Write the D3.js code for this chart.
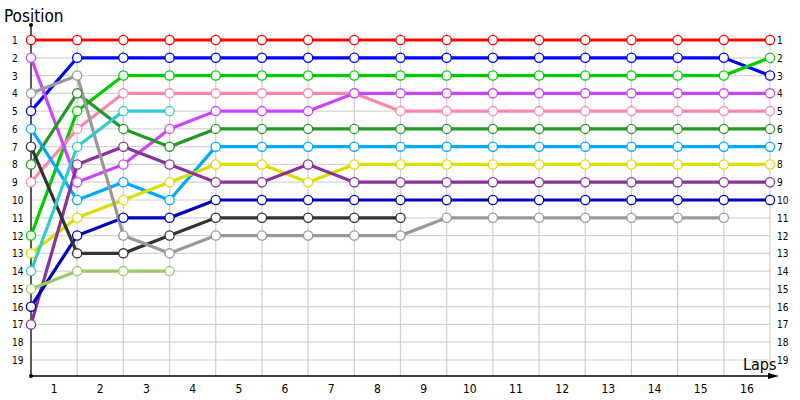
<!DOCTYPE html>
<html><head><meta charset="utf-8">
<script src="https://cdn.jsdelivr.net/npm/d3@7"></script>
<style>body{margin:0;background:#fff;}svg{display:block;font-family:"DejaVu Sans Condensed","DejaVu Sans",Verdana,sans-serif;}</style>
</head><body>
<svg id="c" width="800" height="400"></svg>
<script>
// ---- data ----
const lapLabels = ["1","2","3","4","5","6","7","8","9","10","11","12","13","14","15","16"];
const positionTicks = [1,2,3,4,5,6,7,8,9,10,11,12,13,14,15,16,17,18,19];
const seriesColors = ["#ff0000","#0000ff","#00cc00","#ff88aa","#cc44ff","#229922","#00aaff","#dddd00","#883399","#0000bb","#333333","#999999","#33cccc","#99cc66"];
// position after each lap (index 0 = start)
const car1  = [1,1,1,1,1,1,1,1,1,1,1,1,1,1,1,1,1];
const car2  = [5,2,2,2,2,2,2,2,2,2,2,2,2,2,2,2,3];
const car3  = [12,5,3,3,3,3,3,3,3,3,3,3,3,3,3,3,2];
const car4  = [9,6,4,4,4,4,4,4,5,5,5,5,5,5,5,5,5];
const car5  = [2,9,8,6,5,5,5,4,4,4,4,4,4,4,4,4,4];
const car6  = [8,4,6,7,6,6,6,6,6,6,6,6,6,6,6,6,6];
const car7  = [6,10,9,10,7,7,7,7,7,7,7,7,7,7,7,7,7];
const car8  = [13,11,10,9,8,8,9,8,8,8,8,8,8,8,8,8,8];
const car9  = [17,8,7,8,9,9,8,9,9,9,9,9,9,9,9,9,9];
const car10 = [16,12,11,11,10,10,10,10,10,10,10,10,10,10,10,10,10];
const car11 = [7,13,13,12,11,11,11,11,11];
const car12 = [4,3,12,13,12,12,12,12,12,11,11,11,11,11,11,11];
const car13 = [14,7,5,5];
const car14 = [15,14,14,14];
const allSeries = [car1,car2,car3,car4,car5,car6,car7,car8,car9,car10,car11,car12,car13,car14];

// ---- drawing ----
const svg = d3.select("#c");
const x = d3.scaleLinear().domain([0,16]).range([31,770]);
const y = d3.scaleLinear().domain([1,19]).range([40,360]);
const yTop = 25, yBot = 376;

// grid
const g = svg.append("g");
g.selectAll("line.h").data(positionTicks).join("line")
  .attr("x1",x(0)).attr("x2",x(16)).attr("y1",d=>y(d)).attr("y2",d=>y(d))
  .attr("stroke","#d4d4d4").attr("stroke-width",1.2);
g.selectAll("line.v").data(d3.range(1,17)).join("line")
  .attr("x1",d=>x(d)).attr("x2",d=>x(d)).attr("y1",33).attr("y2",yBot)
  .attr("stroke","#d0d0d0").attr("stroke-width",1.2);

// axes
svg.append("line").attr("x1",x(0)).attr("x2",x(0)).attr("y1",yTop).attr("y2",yBot).attr("stroke","#000").attr("stroke-width",1.3);
svg.append("line").attr("x1",x(0)).attr("x2",772).attr("y1",yBot).attr("y2",yBot).attr("stroke","#000").attr("stroke-width",1.3);
svg.append("circle").attr("cx",x(0)).attr("cy",yTop).attr("r",2).attr("fill","#000");
svg.append("circle").attr("cx",x(0)).attr("cy",yBot).attr("r",2).attr("fill","#000");
svg.append("path").attr("d",`M768,${yBot-3} L779,${yBot} L768,${yBot+3} Z`).attr("fill","#000");

// tick labels
svg.append("g").selectAll("text").data(positionTicks).join("text")
  .attr("x",12).attr("y",d=>y(d)+4).attr("font-size",10).attr("fill","#000").text(d=>d);
svg.append("g").selectAll("text").data(positionTicks).join("text")
  .attr("x",777).attr("y",d=>y(d)+4).attr("font-size",10).attr("fill","#000").text(d=>d);
svg.append("g").selectAll("text").data(lapLabels).join("text")
  .attr("x",(d,i)=>x(i+0.5)).attr("y",393).attr("text-anchor","middle").attr("font-size",12).attr("fill","#000").text(d=>d);

svg.append("text").attr("x",4).attr("y",22).attr("font-size",17).attr("fill","#000").text("Position");
svg.append("text").attr("x",743).attr("y",370).attr("font-size",16).attr("fill","#000").text("Laps");

// lines
const line = d3.line().x((d,i)=>x(i)).y(d=>y(d));
svg.append("g").selectAll("path").data(allSeries).join("path")
  .attr("d",line).attr("fill","none").attr("stroke",(d,i)=>seriesColors[i]).attr("stroke-width",3.2);

// markers
const mg = svg.append("g");
allSeries.forEach((s,si)=>{
  mg.append("g").selectAll("circle").data(s).join("circle")
    .attr("cx",(d,i)=>x(i)).attr("cy",d=>y(d)).attr("r",4.6)
    .attr("fill","#fff").attr("stroke",seriesColors[si]).attr("stroke-width",1.3);
});
</script>
</body></html>
